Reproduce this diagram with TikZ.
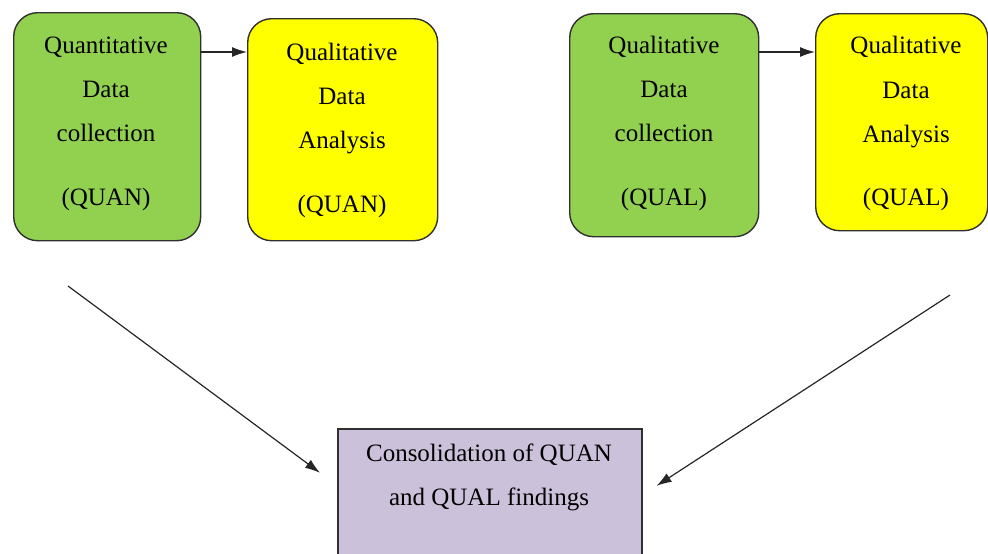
\documentclass[tikz,border=0pt]{standalone}
\usepackage{fontspec}
\setmainfont{Liberation Serif}
\usetikzlibrary{arrows.meta}
\definecolor{boxgreen}{HTML}{92D050}
\definecolor{boxyellow}{HTML}{FFFF00}
\definecolor{boxlilac}{HTML}{CCC1DA}
\definecolor{edge}{HTML}{303030}
\tikzset{
  stagebox/.style={draw=edge, line width=1.4pt, rounded corners=24pt, inner sep=0pt, anchor=north west},
  findbox/.style={draw=edge, line width=1.6pt, fill=boxlilac, inner sep=0pt, anchor=north west},
  txt/.style={font=\fontsize{25}{28}\selectfont, inner sep=0pt, anchor=base},
  flow/.style={draw=black!85, line width=1.2pt, -{Latex[length=15pt,width=10pt]}}
}
\begin{document}
\begin{tikzpicture}[x=1pt,y=-1pt]
\useasboundingbox (0,0) rectangle (988,554);
\begin{scope}
\clip (0,0) rectangle (988,554);

% stage boxes
\node[stagebox, fill=boxgreen, minimum width=187pt, minimum height=228pt] (qncol) at (13,12) {};
\node[stagebox, fill=boxyellow, minimum width=190pt, minimum height=222pt] (qnana) at (247,18) {};
\node[stagebox, fill=boxgreen, minimum width=189pt, minimum height=223pt] (qlcol) at (569,13) {};
\node[stagebox, fill=boxyellow, minimum width=172pt, minimum height=217pt] (qlana) at (815,13) {};
% consolidation box, running past the lower edge
\node[findbox, minimum width=304pt, minimum height=160pt] (cons) at (337,428) {};

% labels
\node[txt] (t1a) at (106,53) {Quantitative};
\node[txt] (t1b) at (106,97) {Data};
\node[txt] (t1c) at (106,141) {collection};
\node[txt] (t1d) at (106,205) {(QUAN)};

\node[txt] (t2a) at (342,60) {Qualitative};
\node[txt] (t2b) at (342,104) {Data};
\node[txt] (t2c) at (342,148) {Analysis};
\node[txt] (t2d) at (342,212) {(QUAN)};

\node[txt] (t3a) at (664,53) {Qualitative};
\node[txt] (t3b) at (664,97) {Data};
\node[txt] (t3c) at (664,141) {collection};
\node[txt] (t3d) at (664,205) {(QUAL)};

\node[txt] (t4a) at (906,53) {Qualitative};
\node[txt] (t4b) at (906,98) {Data};
\node[txt] (t4c) at (906,142) {Analysis};
\node[txt] (t4d) at (906,205) {(QUAL)};

\node[txt] (t5a) at (489,461) {Consolidation of QUAN};
\node[txt] (t5b) at (489,505) {and QUAL findings};

% connectors
\draw[flow] ([yshift=-40pt]qncol.north east) -- ([yshift=-34pt]qnana.north west);
\draw[flow] ([yshift=-39pt]qlcol.north east) -- ([yshift=-39pt]qlana.north west);

\coordinate (sl) at (68,286);
\coordinate (sr) at (950,295);
\draw[flow] (sl) -- ([xshift=-17pt,yshift=36pt]cons.west);
\draw[flow] (sr) -- ([xshift=14pt,yshift=23pt]cons.east);
\end{scope}
\end{tikzpicture}
\end{document}
